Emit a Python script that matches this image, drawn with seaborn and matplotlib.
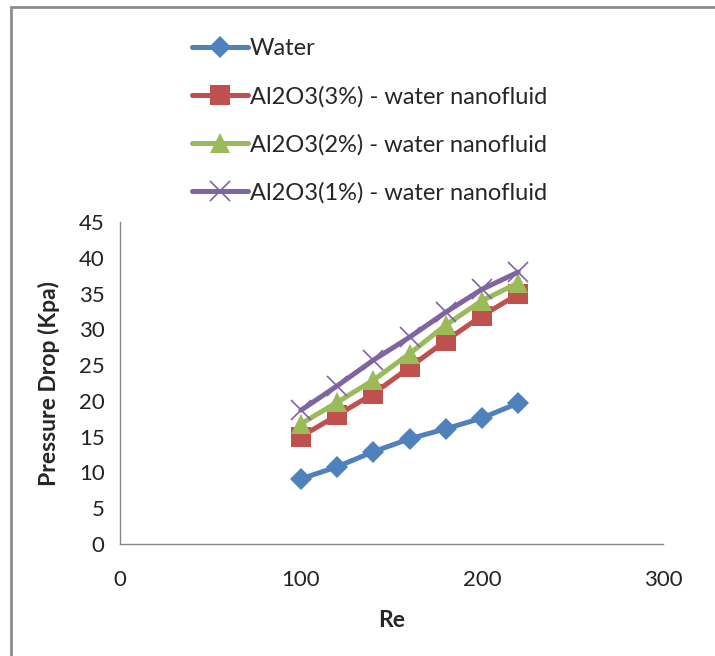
import matplotlib
matplotlib.use("Agg")
import matplotlib.pyplot as plt
import matplotlib.patches as mpatches
import numpy as np
import pandas as pd
import seaborn as sns

# Reynolds numbers and measured pressure drop (kPa) per fluid
re_values = [100, 120, 140, 160, 180, 200, 220]
water = [9.1, 10.8, 12.9, 14.7, 16.1, 17.6, 19.7]
al2o3_3 = [15.0, 18.0, 21.0, 24.7, 28.4, 31.9, 34.9]
al2o3_2 = [16.8, 19.8, 22.9, 26.6, 30.6, 34.0, 36.5]
al2o3_1 = [18.7, 22.1, 25.7, 28.9, 32.4, 35.6, 38.0]

series_names = [
    "Water",
    "Al2O3(3%) - water nanofluid",
    "Al2O3(2%) - water nanofluid",
    "Al2O3(1%) - water nanofluid",
]
series_values = [water, al2o3_3, al2o3_2, al2o3_1]
colors = ["#4F81BD", "#C0504D", "#9BBB59", "#8064A2"]
marker_shapes = ["D", "s", "^", "x"]
marker_sizes = [16.5, 22, 21, 21]
legend_marker_sizes = [11.5, 15, 15, 15]

x_ticks = [0, 100, 200, 300]
y_ticks = list(range(0, 50, 5))

df = pd.DataFrame(
    [
        {"Re": r, "dp": v, "fluid": name}
        for name, vals in zip(series_names, series_values)
        for r, v in zip(re_values, vals)
    ]
)

sns.set_style("white")
plt.rcParams["font.family"] = ["Lato", "DejaVu Sans"]

fig = plt.figure(figsize=(7.15, 6.56), dpi=100)
ax = fig.add_axes([120 / 715, 1 - 544 / 656, (663 - 120) / 715, (544 - 222) / 656])

for name, color, mk, ms in zip(series_names, colors, marker_shapes, marker_sizes):
    line_art = mk == "x"
    sns.lineplot(
        data=df[df["fluid"] == name],
        x="Re",
        y="dp",
        color=color,
        marker=mk,
        linewidth=3.6,
        markersize=ms,
        markeredgewidth=2.0 if line_art else 0,
        markeredgecolor=color,
        label=name,
        ax=ax,
    )

handles, labels = ax.get_legend_handles_labels()
ax.get_legend().remove()
for h, mk, ms in zip(handles, marker_shapes, legend_marker_sizes):
    h.set_linewidth(3.6)
    h.set_markersize(ms)
    h.set_markeredgewidth(1.2 if mk == "x" else 0)

fig.legend(
    handles,
    labels,
    loc="upper left",
    bbox_to_anchor=(171 / 715, 1 - 17 / 656),
    frameon=False,
    fontsize=17,
    handlelength=2.35,
    handletextpad=0.1,
    labelspacing=1.12,
)

ax.set_xlim(0, 300)
ax.set_ylim(0, 45)
ax.set_xticks(x_ticks)
ax.set_yticks(y_ticks)
ax.tick_params(axis="both", labelsize=16, colors="#868686", length=6, width=1,
               direction="out", labelcolor="#222222")
ax.tick_params(axis="x", pad=13)
ax.tick_params(axis="y", pad=5)
for side in ["top", "right"]:
    ax.spines[side].set_visible(False)
for side in ["left", "bottom"]:
    ax.spines[side].set_color("#868686")
    ax.spines[side].set_linewidth(1)

ax.set_xlabel("Re", fontsize=16.5, fontweight="bold", labelpad=14)
ax.set_ylabel("Pressure Drop (Kpa)", fontsize=16.5, fontweight="bold", labelpad=14)

# outer frame of the chart area
frame = mpatches.Rectangle(
    (11 / 715, -0.1), 1.2, 1 - 7 / 656 + 0.1,
    transform=fig.transFigure, fill=False, edgecolor="#8c8c8c", linewidth=2,
    clip_on=False,
)
fig.patches.append(frame)

fig.savefig("out.png", dpi=100, facecolor="white")
